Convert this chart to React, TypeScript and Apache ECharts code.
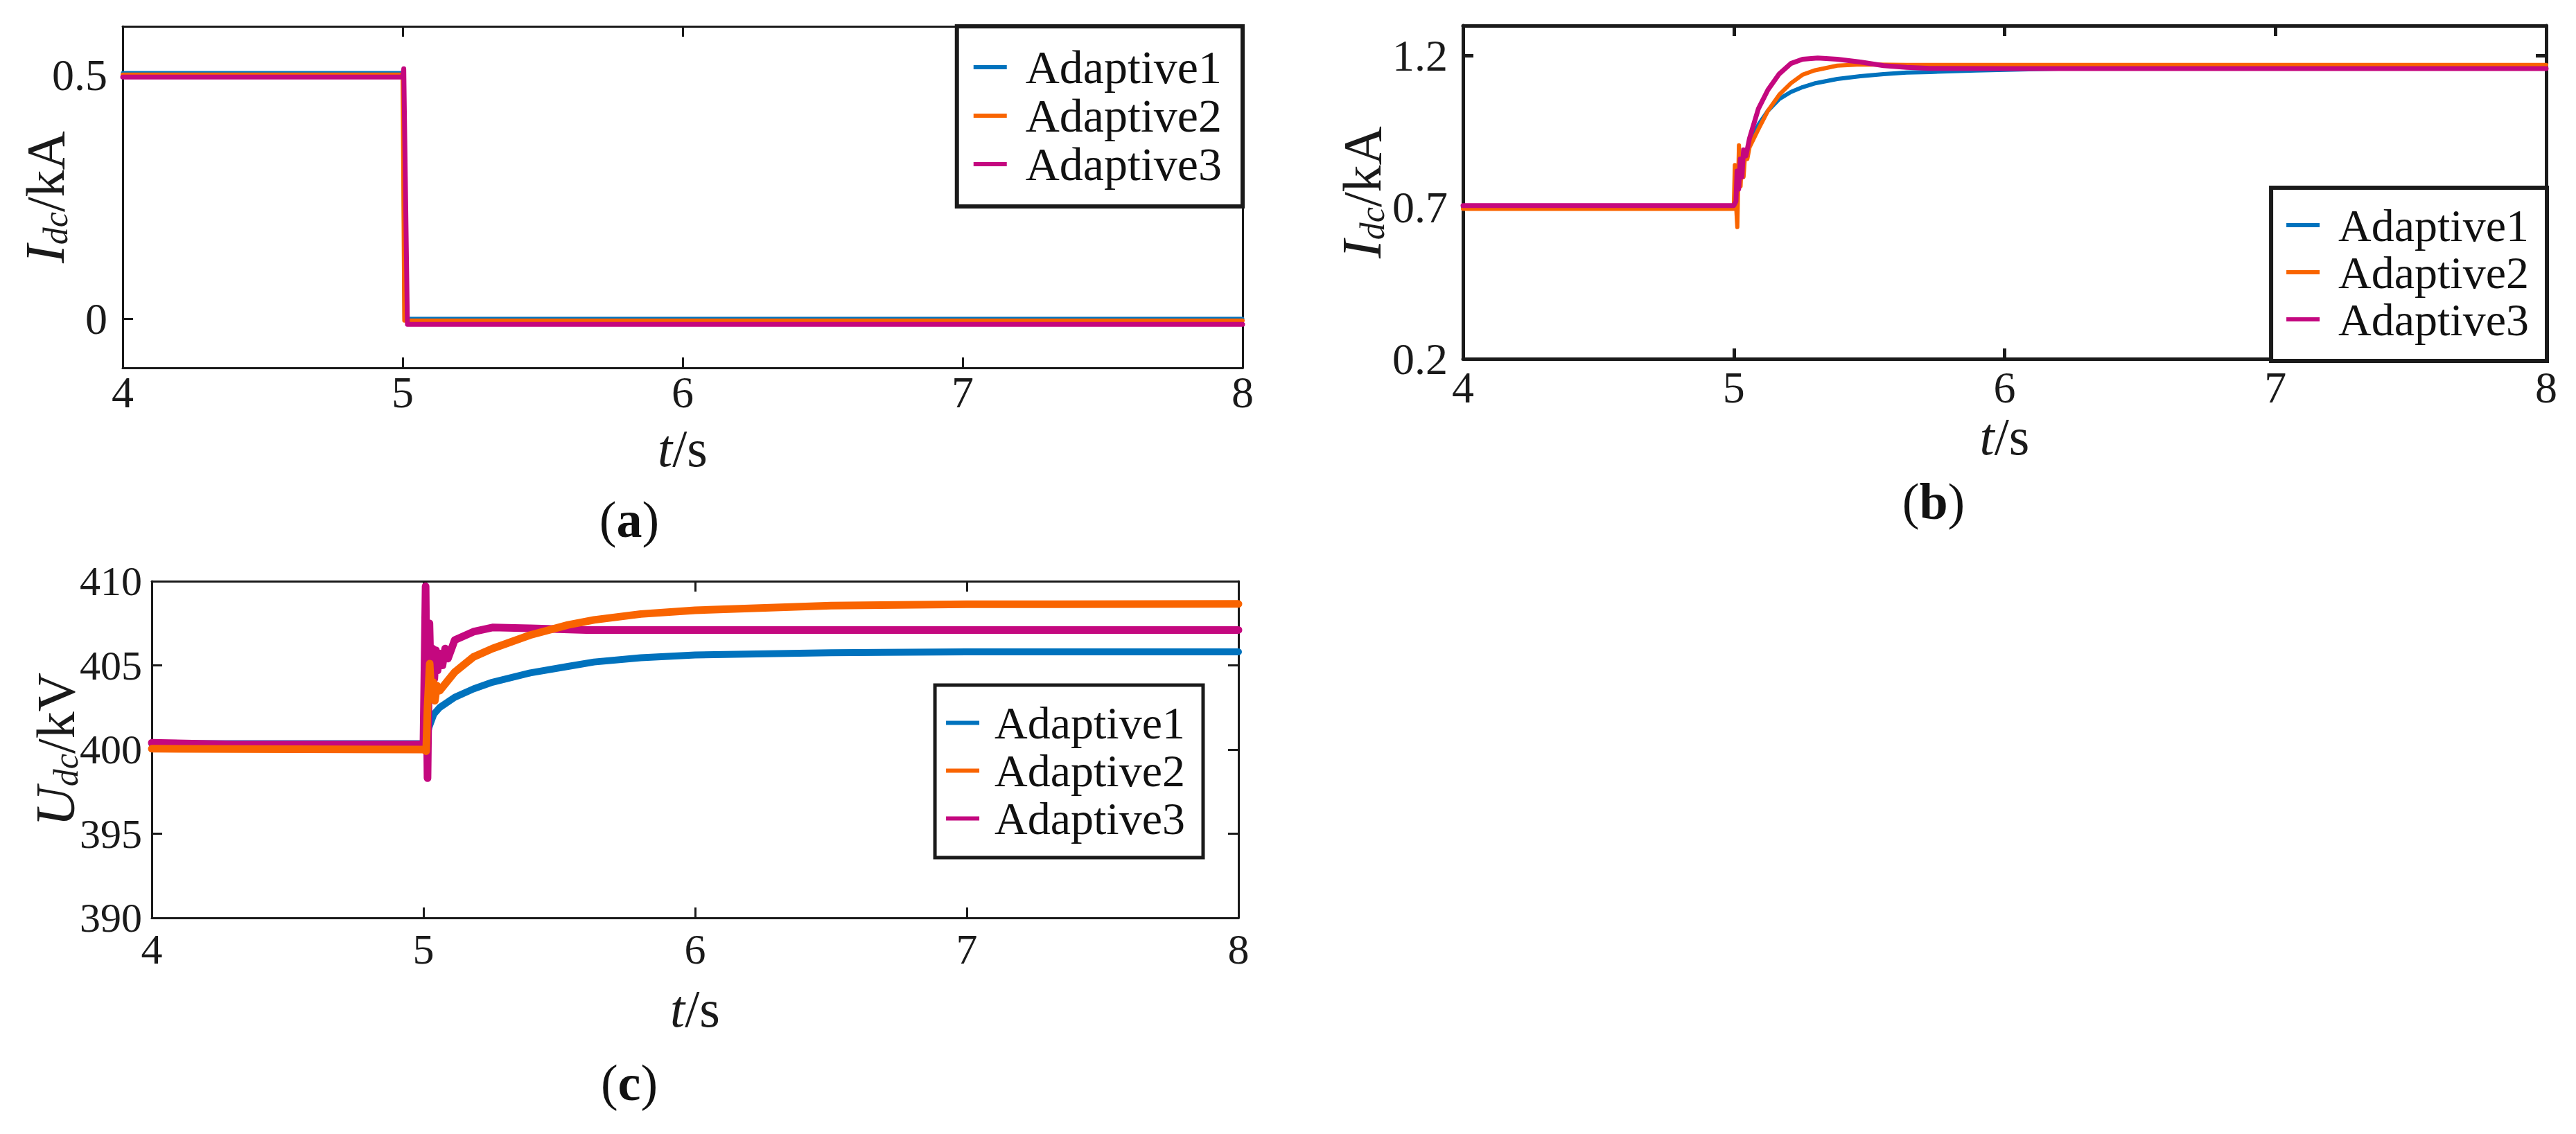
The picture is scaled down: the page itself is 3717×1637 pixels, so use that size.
import { useEffect, useRef } from "react";
import * as echarts from "echarts";

type Pt = [number, number];

const FF = "'Liberation Serif', 'DejaVu Serif', serif";
const INK = "#1a1a1a";

const seriesNames = ["Adaptive1", "Adaptive2", "Adaptive3"];
const seriesColors = ["#0072BD", "#F96400", "#C4087F"];
const timeTicks = [4, 5, 6, 7, 8];

// ---------- (a) Idc / kA ----------
const idcATicks = [0, 0.5];
const idcA1: Pt[] = [[4, 0.505], [5.0, 0.505], [5.006, 0.001], [8, 0.001]];
const idcA2: Pt[] = [[4, 0.501], [5.0, 0.501], [5.006, -0.003], [8, -0.003]];
const idcA3: Pt[] = [[4, 0.496], [5.0, 0.496], [5.004, 0.513], [5.017, -0.011], [8, -0.011]];

// ---------- (b) Idc / kA ----------
const idcBTicks = [0.2, 0.7, 1.2];
const idcB1: Pt[] = [
  [4, 0.702], [5.0, 0.702], [5.01, 0.78], [5.02, 0.8], [5.03, 0.84], [5.045, 0.88],
  [5.058, 0.912], [5.091, 0.973], [5.126, 1.019], [5.168, 1.058], [5.211, 1.081],
  [5.254, 1.097], [5.297, 1.109], [5.382, 1.124], [5.467, 1.133], [5.553, 1.14],
  [5.638, 1.145], [5.724, 1.147], [5.895, 1.152], [6.2, 1.158], [7, 1.161], [8, 1.161],
];
const idcB2: Pt[] = [
  [4, 0.695], [5.0, 0.695], [5.004, 0.84], [5.009, 0.7], [5.013, 0.635], [5.019, 0.905],
  [5.025, 0.77], [5.03, 0.87], [5.036, 0.8], [5.042, 0.88], [5.05, 0.86], [5.058, 0.898],
  [5.091, 0.958], [5.126, 1.019], [5.168, 1.072], [5.211, 1.11], [5.254, 1.138],
  [5.297, 1.152], [5.382, 1.168], [5.467, 1.172], [5.638, 1.17], [8, 1.17],
];
const idcB3: Pt[] = [
  [4, 0.706], [5.0, 0.706], [5.008, 0.72], [5.012, 0.82], [5.018, 0.76], [5.024, 0.86],
  [5.03, 0.8], [5.036, 0.89], [5.045, 0.87], [5.058, 0.928], [5.091, 1.026], [5.126, 1.088],
  [5.168, 1.141], [5.211, 1.175], [5.254, 1.189], [5.31, 1.193], [5.382, 1.189],
  [5.467, 1.18], [5.553, 1.168], [5.638, 1.162], [5.724, 1.159], [6, 1.158], [8, 1.158],
];

// ---------- (c) Udc / kV ----------
const udcCTicks = [390, 395, 400, 405, 410];
const udcC1: Pt[] = [
  [4, 400.35], [5.0, 400.35], [5.01, 400.6], [5.02, 401.3], [5.038, 402.1], [5.06, 402.5],
  [5.115, 403.1], [5.184, 403.6], [5.254, 404.0], [5.393, 404.55], [5.532, 404.94],
  [5.628, 405.2], [5.8, 405.45], [6.0, 405.62], [6.5, 405.75], [7, 405.8], [8, 405.8],
];
const udcC2: Pt[] = [
  [4, 400.05], [5.0, 400.0], [5.01, 399.9], [5.015, 402.5], [5.023, 405.1], [5.03, 403.0],
  [5.036, 404.0], [5.042, 402.9], [5.05, 403.8], [5.06, 403.5], [5.115, 404.6],
  [5.184, 405.5], [5.254, 406.0], [5.393, 406.8], [5.532, 407.4], [5.628, 407.7],
  [5.8, 408.05], [6.0, 408.27], [6.5, 408.55], [7, 408.63], [8, 408.65],
];
const udcC3: Pt[] = [
  [4, 400.4], [4.3, 400.3], [5.0, 400.3], [5.008, 409.7], [5.015, 398.3], [5.022, 407.5],
  [5.028, 403.5], [5.034, 406.0], [5.04, 404.2], [5.046, 405.9], [5.052, 404.7],
  [5.06, 405.7], [5.07, 405.0], [5.08, 406.0], [5.09, 405.4], [5.115, 406.5],
  [5.184, 407.0], [5.254, 407.25], [5.393, 407.2], [5.6, 407.1], [8, 407.1],
];

type Panel = {
  grid: { left: number; top: number; width: number; height: number };
  yMin: number;
  yMax: number;
  yTicks: number[];
  yName: string;
  axisW: number;
  yLabelSize: number;
  xLabelSize: number;
  xLabelLineHeight?: number;
  yLabelMargin: number;
  xLabelMargin: number;
  xNameGap: number;
  yNameGap: number;
  lines: Pt[][];
  order: number[];
  widths: number[];
  legend: {
    right: number; top: number; padding: number[]; borderWidth: number;
    fontSize: number; lineHeight: number; textGap: number;
  };
  tag: string;
  tagPos: [number, number];
};

const panels: Panel[] = [
  {
    grid: { left: 177, top: 38, width: 1616, height: 493 },
    yMin: -0.1, yMax: 0.6, yTicks: idcATicks, yName: "{i|I}{s|dc}{n|/kA}",
    axisW: 3, yLabelSize: 64, xLabelSize: 64, yLabelMargin: 22, xLabelMargin: 3,
    xNameGap: 78, yNameGap: 72,
    lines: [idcA1, idcA2, idcA3], order: [0, 1, 2], widths: [5, 6, 7],
    legend: { right: 1924, top: 38, padding: [24, 30, 26, 24], borderWidth: 6, fontSize: 68, lineHeight: 70, textGap: 22 },
    tag: "a", tagPos: [908, 750],
  },
  {
    grid: { left: 2111, top: 37, width: 1563, height: 481 },
    yMin: 0.2, yMax: 1.3, yTicks: idcBTicks, yName: "{i|I}{s|dc}{n|/kA}",
    axisW: 5, yLabelSize: 64, xLabelSize: 64, xLabelLineHeight: 62, yLabelMargin: 22, xLabelMargin: 10,
    xNameGap: 74, yNameGap: 106,
    lines: [idcB1, idcB2, idcB3], order: [0, 1, 2], widths: [6, 6, 7],
    legend: { right: 42, top: 271, padding: [20, 26, 26, 22], borderWidth: 6, fontSize: 66, lineHeight: 68, textGap: 22 },
    tag: "b", tagPos: [2790, 724],
  },
  {
    grid: { left: 219, top: 839, width: 1568, height: 486 },
    yMin: 390, yMax: 410, yTicks: udcCTicks, yName: "{i|U}{s|dc}{n|/kV}",
    axisW: 3, yLabelSize: 60, xLabelSize: 62, yLabelMargin: 14, xLabelMargin: 14,
    xNameGap: 93, yNameGap: 99,
    lines: [udcC1, udcC2, udcC3], order: [0, 2, 1], widths: [10, 11, 11],
    legend: { right: 1981, top: 989, padding: [20, 26, 22, 16], borderWidth: 5, fontSize: 66, lineHeight: 69, textGap: 17 },
    tag: "c", tagPos: [908, 1563],
  },
];

function buildOption() {
  const grid: any[] = [];
  const xAxis: any[] = [];
  const yAxis: any[] = [];
  const series: any[] = [];
  const legend: any[] = [];
  const graphic: any[] = [];

  panels.forEach((p, k) => {
    grid.push({ ...p.grid, show: false });
    const line = { onZero: false, lineStyle: { color: INK, width: p.axisW } };
    const tick = (vals?: number[]) => ({
      inside: true,
      length: 15,
      lineStyle: { color: INK, width: p.axisW },
      ...(vals ? { customValues: vals } : {}),
    });
    xAxis.push({
      type: "value", gridIndex: k, position: "bottom", min: 4, max: 8, interval: 1,
      axisLine: line, axisTick: tick(timeTicks), splitLine: { show: false },
      axisLabel: {
        fontSize: p.xLabelSize, fontFamily: FF, color: INK, margin: p.xLabelMargin,
        customValues: timeTicks,
        ...(p.xLabelLineHeight ? { lineHeight: p.xLabelLineHeight } : {}),
      },
      name: "{i|t}{n|/s}", nameLocation: "middle", nameGap: p.xNameGap,
      nameMoveOverlap: false,
      nameTextStyle: {
        rich: {
          i: { fontSize: 76, lineHeight: 76, fontFamily: FF, fontStyle: "italic", color: INK },
          n: { fontSize: 76, lineHeight: 76, fontFamily: FF, color: INK },
        },
      },
    });
    xAxis.push({
      type: "value", gridIndex: k, position: "top", min: 4, max: 8, interval: 1,
      axisLine: line, axisTick: tick(timeTicks), splitLine: { show: false },
      axisLabel: { show: false },
    });
    yAxis.push({
      type: "value", gridIndex: k, position: "left", min: p.yMin, max: p.yMax,
      axisLine: line, axisTick: tick(p.yTicks), splitLine: { show: false },
      axisLabel: {
        fontSize: p.yLabelSize, fontFamily: FF, color: INK, margin: p.yLabelMargin,
        customValues: p.yTicks,
      },
      name: p.yName, nameLocation: "middle", nameGap: p.yNameGap, nameRotate: 90,
      nameMoveOverlap: false,
      nameTextStyle: {
        rich: {
          i: { fontSize: 80, fontFamily: FF, fontStyle: "italic", color: INK },
          s: { fontSize: 50, fontFamily: FF, fontStyle: "italic", color: INK, verticalAlign: "bottom" },
          n: { fontSize: 78, fontFamily: FF, color: INK },
        },
      },
    });
    yAxis.push({
      type: "value", gridIndex: k, position: "right", min: p.yMin, max: p.yMax,
      axisLine: line, axisTick: tick(p.yTicks), splitLine: { show: false },
      axisLabel: { show: false, customValues: p.yTicks },
    });

    p.order.forEach((si) => {
      series.push({
        name: seriesNames[si],
        type: "line",
        xAxisIndex: 2 * k,
        yAxisIndex: 2 * k,
        data: p.lines[si],
        showSymbol: false,
        symbol: "none",
        color: seriesColors[si],
        itemStyle: { color: seriesColors[si] },
        lineStyle: { color: seriesColors[si], width: p.widths[si], join: "round", cap: "round" },
        z: 2,
      });
    });

    legend.push({
      data: seriesNames,
      orient: "vertical",
      right: p.legend.right,
      top: p.legend.top,
      padding: p.legend.padding,
      itemGap: 0,
      itemWidth: 48,
      itemHeight: 6,
      icon: "rect",
      selectedMode: false,
      backgroundColor: "#ffffff",
      borderColor: INK,
      borderWidth: p.legend.borderWidth,
      borderRadius: 0,
      textStyle: {
        fontSize: p.legend.fontSize, fontFamily: FF, color: "#111",
        lineHeight: p.legend.lineHeight, padding: [0, 0, 0, p.legend.textGap],
      },
      z: 10,
    });

    graphic.push({
      type: "text",
      x: p.tagPos[0],
      y: p.tagPos[1],
      style: {
        text: `{p|(}{b|${p.tag}}{p|)}`,
        align: "center",
        verticalAlign: "middle",
        rich: {
          p: { fontSize: 74, fontFamily: FF, fill: "#111" },
          b: { fontSize: 74, fontFamily: FF, fontWeight: "bold", fill: "#111" },
        },
      },
    });
  });

  return {
    animation: false,
    backgroundColor: "#ffffff",
    textStyle: { fontFamily: FF },
    grid, xAxis, yAxis, series, legend, graphic,
  };
}

export default function App() {
  const ref = useRef<HTMLDivElement | null>(null);
  useEffect(() => {
    if (!ref.current) return;
    const chart = echarts.init(ref.current, undefined, { renderer: "svg" });
    chart.setOption(buildOption() as any);
    return () => chart.dispose();
  }, []);
  return (
    <div
      ref={ref}
      style={{ position: "fixed", left: 0, top: 0, width: 3717, height: 1637, background: "#fff" }}
    />
  );
}
